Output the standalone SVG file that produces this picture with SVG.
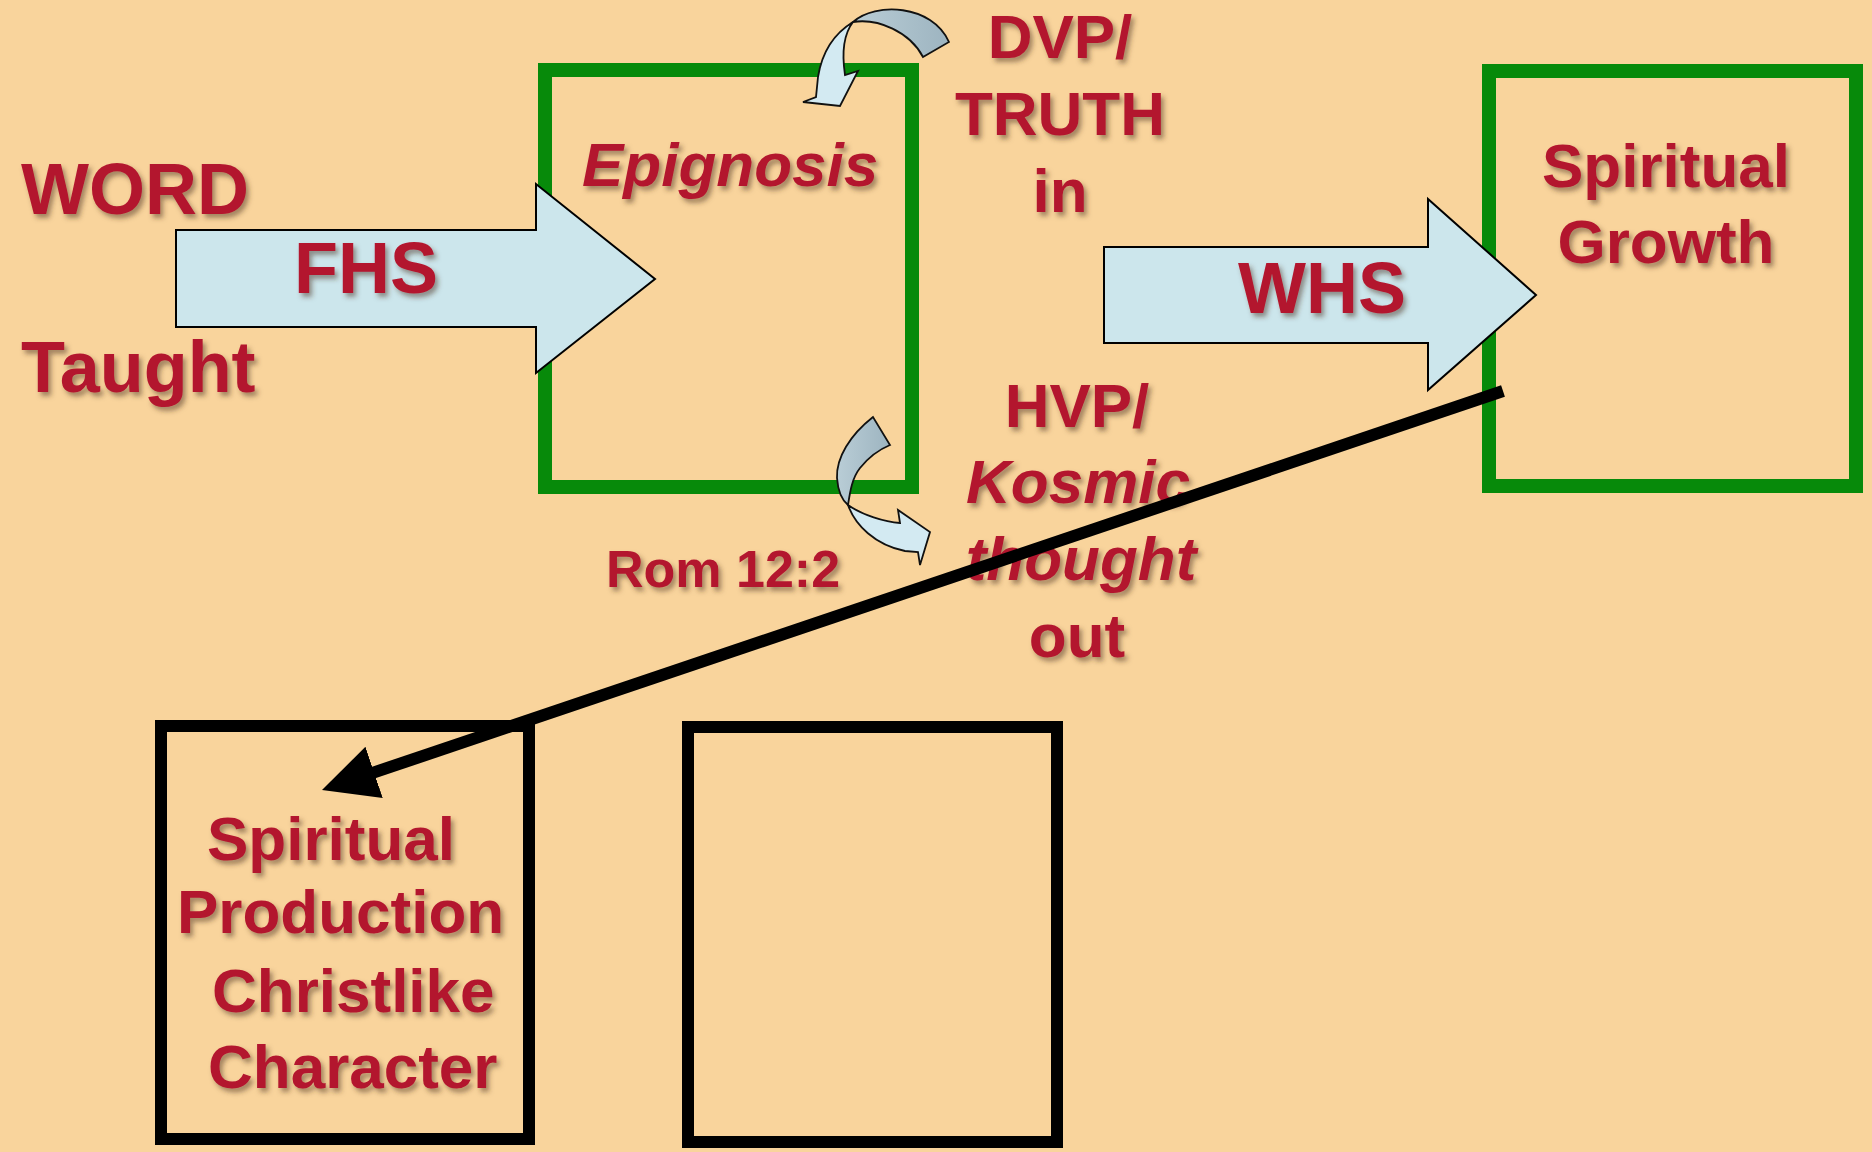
<svg xmlns="http://www.w3.org/2000/svg" width="1872" height="1152" viewBox="0 0 1872 1152">
  <defs>
    <filter id="sh" x="-10%" y="-20%" width="130%" height="150%">
      <feDropShadow dx="3" dy="4" stdDeviation="2.5" flood-color="#4a3020" flood-opacity="0.5"/>
    </filter>
    <linearGradient id="backG" x1="0" y1="0" x2="1" y2="0">
      <stop offset="0" stop-color="#B9CDD6"/>
      <stop offset="1" stop-color="#9DB4C0"/>
    </linearGradient>
    <marker id="ah" markerUnits="userSpaceOnUse" viewBox="0 0 60 60" markerWidth="60" markerHeight="60" refX="25" refY="30" orient="auto">
      <path d="M55,30 L0,3 L0,57 Z" fill="#000"/>
    </marker>
    <style>
      .t{font-family:"Liberation Sans",Arial,sans-serif;font-weight:bold;fill:#B3162F;filter:url(#sh)}
      .it{font-style:italic}
      .mid{text-anchor:middle}
      .green{fill:none;stroke:#078A0A;stroke-width:14}
      .black{fill:none;stroke:#000;stroke-width:12}
      .block{fill:#CCE6EC;stroke:#000;stroke-width:2}
      .back{fill:url(#backG);stroke:#111;stroke-width:1.8}
      .front{fill:#D3EAF2;stroke:#111;stroke-width:1.8}
    </style>
  </defs>
  <rect width="1872" height="1152" fill="#F9D49C"/>

  <g id="epignosis-box">
    <rect class="green" x="545" y="70" width="367" height="417"/>
    <text class="t it" x="582" y="186" font-size="62">Epignosis</text>
  </g>

  <g id="growth-box">
    <rect class="green" x="1489" y="71" width="367" height="415"/>
    <text class="t mid" x="1666" y="187" font-size="62">Spiritual</text>
    <text class="t mid" x="1666" y="263" font-size="62">Growth</text>
  </g>

  <g id="word-taught">
    <text class="t" x="21" y="214" font-size="72">WORD</text>
    <text class="t" x="21" y="392" font-size="72">Taught</text>
  </g>

  <g id="fhs-arrow">
    <polygon class="block" points="176,230 536,230 536,184 655,279 536,373 536,327 176,327"/>
    <text class="t mid" x="366" y="293" font-size="72">FHS</text>
  </g>

  <g id="whs-arrow">
    <polygon class="block" points="1104,247 1428,247 1428,199 1536,295 1428,390 1428,343 1104,343"/>
    <text class="t mid" x="1322" y="313" font-size="72">WHS</text>
  </g>

  <g id="dvp-truth">
    <text class="t mid" x="1060" y="58" font-size="62">DVP/</text>
    <text class="t mid" x="1060" y="135" font-size="62">TRUTH</text>
    <text class="t mid" x="1060" y="212" font-size="62">in</text>
  </g>

  <g id="curve-in">
    <path class="back" d="M853,22 C875,2 932,4 949,42 L923,57 C910,32 878,18 853,22 Z"/>
    <path class="front" d="M853,22 C835,33 822,52 818,77 L816,97 L803,102 L840,106 L858,71 L845,75 C842,55 843,35 853,22 Z"/>
  </g>

  <g id="curve-out">
    <path class="back" d="M873,417 C850,435 836,458 837,478 C838,492 842,500 848,505 C850,492 852,478 860,468 C868,458 878,450 890,445 Z"/>
    <path class="front" d="M848,505 C855,525 875,545 905,551 L918,552 L920,565 L930,532 L898,510 L900,523 C885,522 862,515 848,505 Z"/>
  </g>

  <g id="rom">
    <text class="t" x="606" y="587" font-size="52">Rom 12:2</text>
  </g>

  <g id="hvp-kosmic">
    <text class="t mid" x="1077" y="427" font-size="62">HVP/</text>
    <text class="t mid it" x="1078" y="503" font-size="62">Kosmic</text>
    <text class="t mid it" x="1081" y="580" font-size="62">thought</text>
    <text class="t mid" x="1077" y="657" font-size="62">out</text>
  </g>

  <g id="production-box">
    <rect class="black" x="161" y="726" width="368" height="413"/>
    <text class="t" x="207" y="860" font-size="62">Spiritual</text>
    <text class="t" x="177" y="933" font-size="62">Production</text>
    <text class="t" x="212" y="1012" font-size="62">Christlike</text>
    <text class="t" x="208" y="1088" font-size="62">Character</text>
  </g>

  <g id="empty-box">
    <rect class="black" x="688" y="727" width="369" height="415"/>
  </g>

  <g id="connectors">
    <line x1="1503" y1="391" x2="350.4" y2="780.4" stroke="#000" stroke-width="12" marker-end="url(#ah)"/>
  </g>
</svg>
